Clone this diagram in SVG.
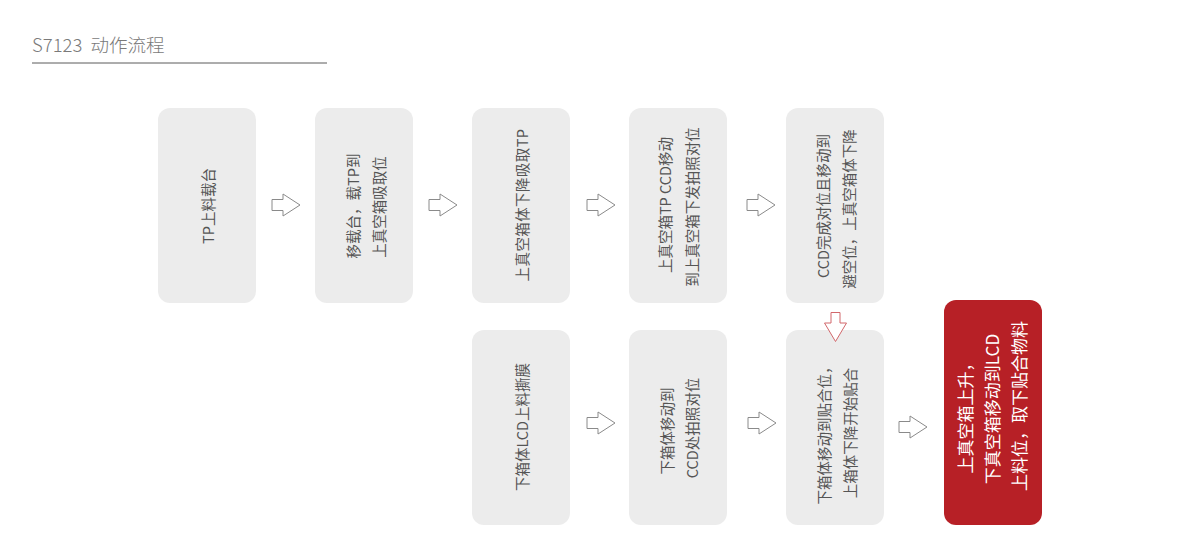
<svg xmlns="http://www.w3.org/2000/svg" xmlns:xlink="http://www.w3.org/1999/xlink" width="1200" height="544" viewBox="0 0 1200 544">
<style>
.box{fill:#ECECEC;}
.red{fill:#B72026;}
.t{font-family:"Noto Sans CJK SC","Noto Sans",sans-serif;font-size:14.5px;fill:#555555;text-anchor:middle;dominant-baseline:central;}
.tw{font-family:"Noto Sans CJK SC","Noto Sans",sans-serif;font-size:17px;fill:#FFFFFF;text-anchor:middle;dominant-baseline:central;}
.arr{fill:#FFFFFF;stroke:#8A8A8A;stroke-width:1;}
.arrd{fill:#FFFFFF;stroke:#D2676B;stroke-width:1;}
.title{font-family:"Noto Sans CJK SC","Noto Sans",sans-serif;font-size:18.5px;fill:#7A7A7A;font-weight:300;white-space:pre;}
</style>
<defs>
<path id="ar" d="M0,-5.5 H11 V-11 L28,0 L11,11 V5.5 H0 Z"/>
</defs>
<rect width="1200" height="544" fill="#FFFFFF"/>
<g id="header">
<text class="title" x="32" y="52" xml:space="preserve">S7123  动作流程</text>
<line x1="32" y1="63" x2="327" y2="63" stroke="#5A5A5A" stroke-width="1"/>
</g>
<g id="n1">
<rect class="box" x="158" y="108" width="98" height="195" rx="12"/>
<text class="t" transform="translate(207,206) rotate(-90)">TP上料载台</text>
</g>
<g id="n2">
<rect class="box" x="315" y="108" width="98" height="195" rx="12"/>
<text class="t" transform="translate(352,206) rotate(-90)">移载台，载TP到</text>
<text class="t" transform="translate(378,207) rotate(-90)">上真空箱吸取位</text>
</g>
<g id="n3">
<rect class="box" x="472" y="108" width="98" height="195" rx="12"/>
<text class="t" transform="translate(521,205) rotate(-90)" letter-spacing="0.4">上真空箱体下降吸取TP</text>
</g>
<g id="n4">
<rect class="box" x="629" y="108" width="98" height="195" rx="12"/>
<text class="t" transform="translate(664,205) rotate(-90)">上真空箱TP CCD移动</text>
<text class="t" transform="translate(691,207) rotate(-90)">到上真空箱下发拍照对位</text>
</g>
<g id="n5">
<rect class="box" x="786" y="108" width="98" height="195" rx="12"/>
<text class="t" transform="translate(822,206) rotate(-90)">CCD完成对位且移动到</text>
<text class="t" transform="translate(848,209) rotate(-90)">避空位，上真空箱体下降</text>
</g>
<g id="n6">
<rect class="box" x="472" y="330" width="98" height="195" rx="12"/>
<text class="t" transform="translate(521,427) rotate(-90)">下箱体LCD上料撕膜</text>
</g>
<g id="n7">
<rect class="box" x="629" y="330" width="98" height="195" rx="12"/>
<text class="t" transform="translate(666,431) rotate(-90)">下箱体移动到</text>
<text class="t" transform="translate(691,428) rotate(-90)">CCD处拍照对位</text>
</g>
<g id="n8">
<rect class="box" x="786" y="330" width="98" height="195" rx="12"/>
<text class="t" transform="translate(823,432) rotate(-90)">下箱体移动到贴合位，</text>
<text class="t" transform="translate(849,433) rotate(-90)">上箱体下降开始贴合</text>
</g>
<g id="n9">
<rect class="red" x="944" y="300" width="98" height="225" rx="12"/>
<text class="tw" transform="translate(964,414) rotate(-90)">上真空箱上升，</text>
<text class="tw" transform="translate(991,409) rotate(-90)">下真空箱移动到LCD</text>
<text class="tw" transform="translate(1018,406) rotate(-90)">上料位，取下贴合物料</text>
</g>
<g id="connectors">
<use xlink:href="#ar" class="arr" x="272" y="205"/>
<use xlink:href="#ar" class="arr" x="429" y="205"/>
<use xlink:href="#ar" class="arr" x="587" y="205"/>
<use xlink:href="#ar" class="arr" x="747" y="205"/>
<path class="arrd" d="M831,312.5 H840 V323 H846.5 L835.5,341.5 L824.5,323 H831 Z"/>
<use xlink:href="#ar" class="arr" x="587" y="423"/>
<use xlink:href="#ar" class="arr" x="748" y="423"/>
<use xlink:href="#ar" class="arr" x="899" y="427"/>
</g>
</svg>
